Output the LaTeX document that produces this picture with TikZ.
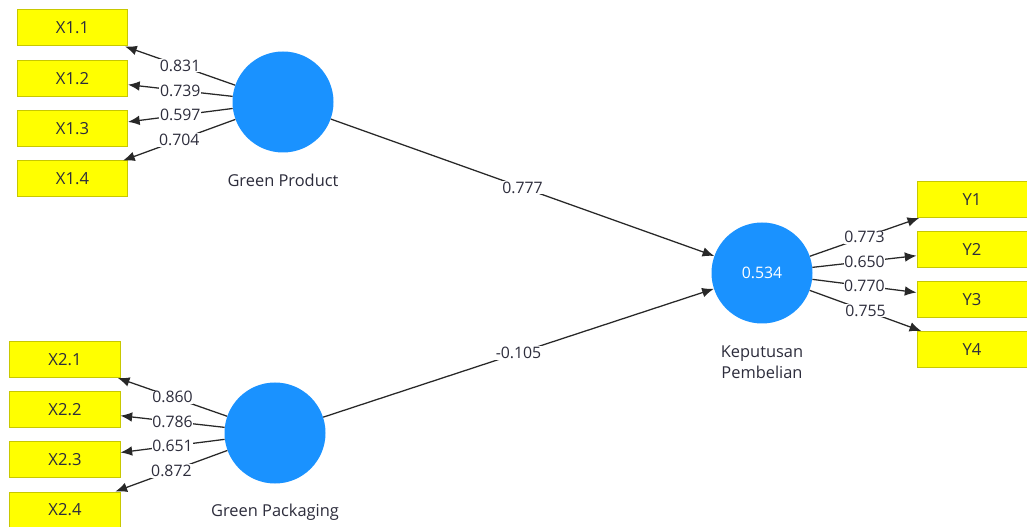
\documentclass[tikz,border=0pt]{standalone}
\usepackage{fontspec}
\setmainfont{Open Sans}
\usetikzlibrary{arrows.meta}

\definecolor{azulpls}{RGB}{26,146,255}
\definecolor{amarelopls}{RGB}{255,255,0}
\definecolor{bordapls}{RGB}{200,200,0}
\definecolor{textopls}{RGB}{45,45,60}

\tikzset{
  construto/.style={circle, fill=azulpls, minimum size=30.3mm, inner sep=0pt, text=white},
  indicador/.style={rectangle, draw=bordapls, line width=0.3mm, fill=amarelopls, minimum width=33mm, minimum height=10.8mm, inner sep=0pt, text=textopls, font=\fontsize{14.2}{17}\selectfont},
  rotulo/.style={text=textopls, align=center, font=\fontsize{14}{18}\selectfont},
  carga/.style={fill=white, inner sep=0.6pt, text=textopls, font=\fontsize{13.5}{15}\selectfont},
  seta/.style={draw={rgb,255:red,40;green,40;blue,40}, line width=0.38mm, -{Latex[length=3.5mm,width=2.9mm]}}
}

\begin{document}
\begin{tikzpicture}[x=0.3mm, y=-0.3mm, font=\fontsize{13.5}{15}\selectfont]
    \useasboundingbox[fill=white] (0,0) rectangle (1027,527);

    % Construtos
    \node[construto] (gp) at (283,102) {};
    \node[construto] (gpk) at (275,433) {};
    \node[construto] (kp) at (762,273) {0.534};
    \node[rotulo] (gplabel) at (283,180) {Green Product};
    \node[rotulo] (gpklabel) at (275,512) {Green Packaging};
    \node[rotulo] (kplabel) at (762,362) {Keputusan\\Pembelian};

    % Indicadores
    \node[indicador] (x11) at (72.5,28) {X1.1};
    \node[indicador] (x12) at (72.5,78.5) {X1.2};
    \node[indicador] (x13) at (72.5,129) {X1.3};
    \node[indicador] (x14) at (72.5,179) {X1.4};

    \node[indicador] (x21) at (65,359.5) {X2.1};
    \node[indicador] (x22) at (65,409.5) {X2.2};
    \node[indicador] (x23) at (65,459.5) {X2.3};
    \node[indicador] (x24) at (65,510) {X2.4};

    \node[indicador] (y1) at (972,199.5) {Y1};
    \node[indicador] (y2) at (972,249.5) {Y2};
    \node[indicador] (y3) at (972,299.5) {Y3};
    \node[indicador] (y4) at (972,349.5) {Y4};

    % Cargas externas
    \draw[seta] (gp) -- node[carga] {0.831} (x11);
    \draw[seta] (gp) -- node[carga] {0.739} (x12);
    \draw[seta] (gp) -- node[carga] {0.597} (x13);
    \draw[seta] (gp) -- node[carga] {0.704} (x14);

    \draw[seta] (gpk) -- node[carga] {0.860} (x21);
    \draw[seta] (gpk) -- node[carga] {0.786} (x22);
    \draw[seta] (gpk) -- node[carga] {0.651} (x23);
    \draw[seta] (gpk) -- node[carga] {0.872} (x24);

    \draw[seta] (kp) -- node[carga] {0.773} (y1);
    \draw[seta] (kp) -- node[carga] {0.650} (y2);
    \draw[seta] (kp) -- node[carga] {0.770} (y3);
    \draw[seta] (kp) -- node[carga] {0.755} (y4);

    % Caminhos estruturais
    \draw[seta] (gp) -- node[carga] {0.777} (kp);
    \draw[seta] (gpk) -- node[carga] {-0.105} (kp);
\end{tikzpicture}
\end{document}
